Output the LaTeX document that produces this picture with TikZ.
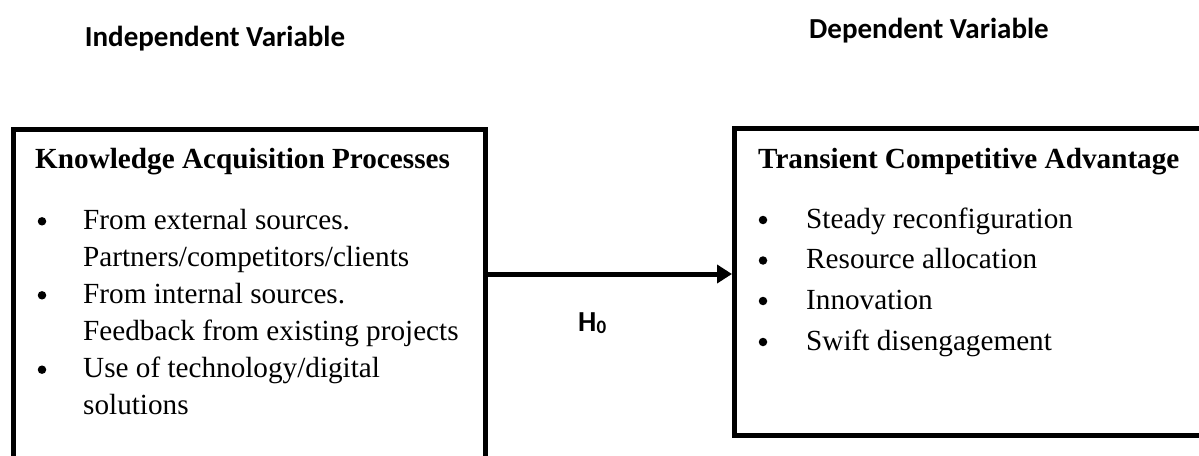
\documentclass[tikz,border=0pt]{standalone}
\usepackage{fontspec}
\setmainfont{Liberation Serif}
\newfontfamily\hdrfont{Carlito}
\usetikzlibrary{arrows.meta}
\begin{document}
\begin{tikzpicture}[x=1pt,y=-1pt,
  box/.style={draw, line width=5pt, inner sep=0pt, rectangle},
  txt/.style={anchor=base west, inner sep=0pt, font=\fontsize{29.2}{34}\selectfont},
  ttl/.style={anchor=base west, inner sep=0pt, font=\fontsize{29.2}{34}\selectfont\bfseries},
  bul/.style={circle, fill=black, inner sep=0pt, minimum size=8.5pt},
  hdr/.style={inner sep=0pt, font=\hdrfont\bfseries\fontsize{29}{34}\selectfont},
  link/.style={line width=5pt, -{Triangle[length=15pt,width=18pt]}},
]
\useasboundingbox (0,0) rectangle (1199,455);
\clip (0,0) rectangle (1199,455);

% headers
\node[hdr] (hind) at (215,39) {Independent Variable};
\node[hdr] (hdep) at (929,31) {Dependent Variable};

% boxes
\node[box, minimum width=472pt, minimum height=350.5pt] (lbox) at (249,304.75) {};
\node[box, minimum width=475.5pt, minimum height=306.5pt] (rbox) at (972.25,281.75) {};

% left box content
\node[ttl] (ltitle) at (35,168) {Knowledge Acquisition Processes};
\node[bul] (lb1) at (42,221.3) {};
\node[txt] (l1) at (83,229.3) {From external sources.};
\node[txt] (l2) at (83,266) {Partners/competitors/clients};
\node[bul] (lb2) at (42,295.3) {};
\node[txt] (l3) at (83,303.3) {From internal sources.};
\node[txt] (l4) at (83,340) {Feedback from existing projects};
\node[bul] (lb3) at (42,369.7) {};
\node[txt] (l5) at (83,377.7) {Use of technology/digital};
\node[txt] (l6) at (83,414.3) {solutions};

% right box content
\node[ttl] (rtitle) at (758,168) {Transient Competitive Advantage};
\node[bul] (rb1) at (763,220) {};
\node[txt] (r1) at (806,228) {Steady reconfiguration};
\node[bul] (rb2) at (763,260.5) {};
\node[txt] (r2) at (806,268.5) {Resource allocation};
\node[bul] (rb3) at (763,301) {};
\node[txt] (r3) at (806,309) {Innovation};
\node[bul] (rb4) at (763,342) {};
\node[txt] (r4) at (806,350) {Swift disengagement};

% connector
\coordinate (ay) at (0,274);
\draw[link] (lbox.east |- ay) -- (rbox.west |- ay);
\node[anchor=base west, inner sep=0pt, font=\hdrfont\bfseries\fontsize{29}{34}\selectfont] (h0) at (578,331.7) {H\raisebox{-2pt}{\fontsize{19}{20}\selectfont 0}};
\end{tikzpicture}
\end{document}
